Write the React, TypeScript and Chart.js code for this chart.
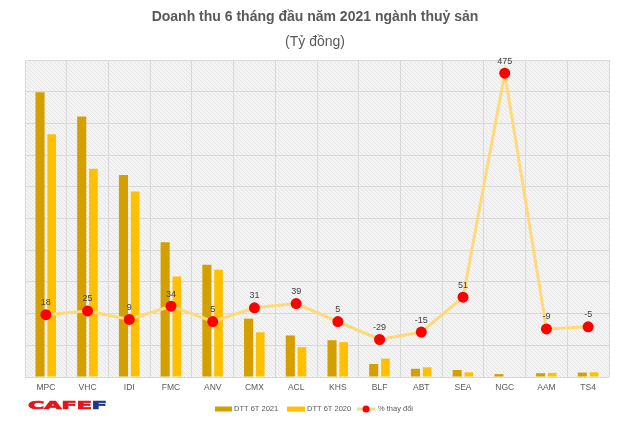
import React, { useEffect, useRef } from "react";
import { Chart, registerables } from "chart.js";

Chart.register(...registerables);

const categories = ["MPC", "VHC", "IDI", "FMC", "ANV", "CMX", "ACL", "KHS", "BLF", "ABT", "SEA", "NGC", "AAM", "TS4"];
const revenue2021 = [6286, 5754, 4459, 2975, 2478, 1288, 917, 812, 287, 182, 154, 63, 84, 98];
const revenue2020 = [5362, 4599, 4095, 2219, 2366, 987, 658, 770, 406, 214, 102, 11, 92, 103];
const pctChange = [18, 25, 9, 34, 5, 31, 39, 5, -29, -15, 51, 475, -9, -5];

const titleText = "Doanh thu 6 tháng đầu năm 2021 ngành thuỷ sản";
const subtitleText = "(Tỷ đồng)";
const legendLabels = ["DTT 6T 2021", "DTT 6T 2020", "% thay đổi"];

const COL2021 = "#D4A000";
const COL2020 = "#FFC000";
const LINE_COL = "#FFD97A";
const POINT_COL = "#FF0000";
const FONT = "'Liberation Sans', Arial, sans-serif";

function makePattern(ctx: CanvasRenderingContext2D) {
  const c = document.createElement("canvas");
  c.width = 4;
  c.height = 4;
  const p = c.getContext("2d")!;
  p.fillStyle = "#f4f4f4";
  p.fillRect(0, 0, 4, 4);
  p.strokeStyle = "#e6e6e6";
  p.lineWidth = 1;
  p.beginPath();
  p.moveTo(0, 0);
  p.lineTo(4, 4);
  p.stroke();
  return ctx.createPattern(c, "repeat");
}

const decorPlugin = {
  id: "decor",
  beforeDraw(chart: any) {
    const { ctx, chartArea } = chart;
    ctx.save();
    ctx.fillStyle = "#ffffff";
    ctx.fillRect(0, 0, chart.width, chart.height);
    const pat = makePattern(ctx);
    ctx.fillStyle = pat || "#f2f2f2";
    ctx.fillRect(chartArea.left, chartArea.top, chartArea.right - chartArea.left, chartArea.bottom - chartArea.top);
    ctx.restore();
  },
  afterDatasetsDraw(chart: any) {
    const { ctx } = chart;
    const meta = chart.getDatasetMeta(0);
    ctx.save();
    ctx.fillStyle = "#404040";
    ctx.font = `9px ${FONT}`;
    ctx.textAlign = "center";
    ctx.textBaseline = "middle";
    meta.data.forEach((pt: any, i: number) => {
      ctx.fillText(String(pctChange[i]), pt.x, pt.y - 12);
    });
    ctx.restore();
  },
  afterDraw(chart: any) {
    const { ctx } = chart;
    ctx.save();
    ctx.fillStyle = "#595959";
    ctx.textAlign = "center";
    ctx.textBaseline = "middle";
    ctx.font = `bold 14px ${FONT}`;
    ctx.fillText(titleText, 315, 17);
    ctx.font = `14px ${FONT}`;
    ctx.fillText(subtitleText, 315, 42);

    const ly = 409;
    ctx.font = `7.5px ${FONT}`;
    ctx.textAlign = "left";
    ctx.fillStyle = COL2021;
    ctx.fillRect(215, ly - 2.5, 17, 5);
    ctx.fillStyle = "#595959";
    ctx.fillText(legendLabels[0], 234, ly);
    ctx.fillStyle = COL2020;
    ctx.fillRect(287, ly - 2.5, 18, 5);
    ctx.fillStyle = "#595959";
    ctx.fillText(legendLabels[1], 307, ly);
    ctx.strokeStyle = LINE_COL;
    ctx.lineWidth = 3;
    ctx.beginPath();
    ctx.moveTo(357, ly);
    ctx.lineTo(375, ly);
    ctx.stroke();
    ctx.fillStyle = POINT_COL;
    ctx.beginPath();
    ctx.arc(366, ly, 3.5, 0, Math.PI * 2);
    ctx.fill();
    ctx.fillStyle = "#595959";
    ctx.fillText(legendLabels[2], 378, ly);

    // CAFEF logo
    ctx.font = `900 12px 'DejaVu Sans', Arial, sans-serif`;
    ctx.textBaseline = "alphabetic";
    const main = "CAFE";
    const last = "F";
    const w1 = ctx.measureText(main).width;
    const w2 = ctx.measureText(last).width;
    const sx = 79 / (w1 + w2);
    ctx.translate(28, 409);
    ctx.scale(sx, 0.9);
    ctx.lineWidth = 0.8;
    ctx.fillStyle = "#E3161B";
    ctx.strokeStyle = "#E3161B";
    ctx.fillText(main, 0, 0);
    ctx.strokeText(main, 0, 0);
    ctx.fillStyle = "#1B3A8C";
    ctx.strokeStyle = "#1B3A8C";
    ctx.fillText(last, w1, 0);
    ctx.strokeText(last, w1, 0);
    ctx.restore();
  },
};

export default function App() {
  const ref = useRef<HTMLCanvasElement>(null);
  useEffect(() => {
    document.body.style.margin = "0";
    const chart = new Chart(ref.current!, {
      type: "bar",
      data: {
        labels: categories,
        datasets: [
          {
            type: "line",
            label: legendLabels[2],
            data: pctChange,
            yAxisID: "y2",
            borderColor: LINE_COL,
            borderWidth: 3,
            pointBackgroundColor: POINT_COL,
            pointBorderColor: POINT_COL,
            pointRadius: 5.5,
            pointBorderWidth: 0,
            tension: 0,
            order: 0,
          } as any,
          {
            type: "bar",
            label: legendLabels[0],
            data: revenue2021,
            backgroundColor: COL2021,
            yAxisID: "y",
            order: 1,
            barPercentage: 0.78,
            categoryPercentage: 0.56,
          },
          {
            type: "bar",
            label: legendLabels[1],
            data: revenue2020,
            backgroundColor: COL2020,
            yAxisID: "y",
            order: 2,
            barPercentage: 0.74,
            categoryPercentage: 0.56,
          },
        ],
      },
      options: {
        responsive: false,
        animation: false,
        layout: { padding: { left: 25, right: 21, top: 60, bottom: 0 } },
        plugins: {
          legend: { display: false },
          title: { display: false },
          tooltip: { enabled: false },
        },
        scales: {
          x: {
            offset: true,
            grid: { color: "#d9d9d9", lineWidth: 1, offset: true, drawTicks: false },
            border: { display: false },
            ticks: { color: "#595959", font: { size: 8.5, family: FONT }, padding: 6 },
            afterFit: (s: any) => {
              s.height = 52;
            },
          },
          y: {
            position: "left",
            min: 0,
            max: 7000,
            ticks: { display: false, stepSize: 700 },
            grid: { color: "#d9d9d9", lineWidth: 1, drawTicks: false },
            border: { display: false },
            afterFit: (s: any) => {
              s.width = 0;
            },
          },
          y2: {
            position: "right",
            min: -100,
            max: 500,
            ticks: { display: false },
            grid: { drawOnChartArea: false, drawTicks: false },
            border: { display: false },
            afterFit: (s: any) => {
              s.width = 0;
            },
          },
        },
      },
      plugins: [decorPlugin],
    });
    return () => chart.destroy();
  }, []);
  return (
    <div style={{ position: "absolute", left: 0, top: 0, width: 630, height: 429 }}>
      <canvas ref={ref} width={630} height={429} />
    </div>
  );
}
